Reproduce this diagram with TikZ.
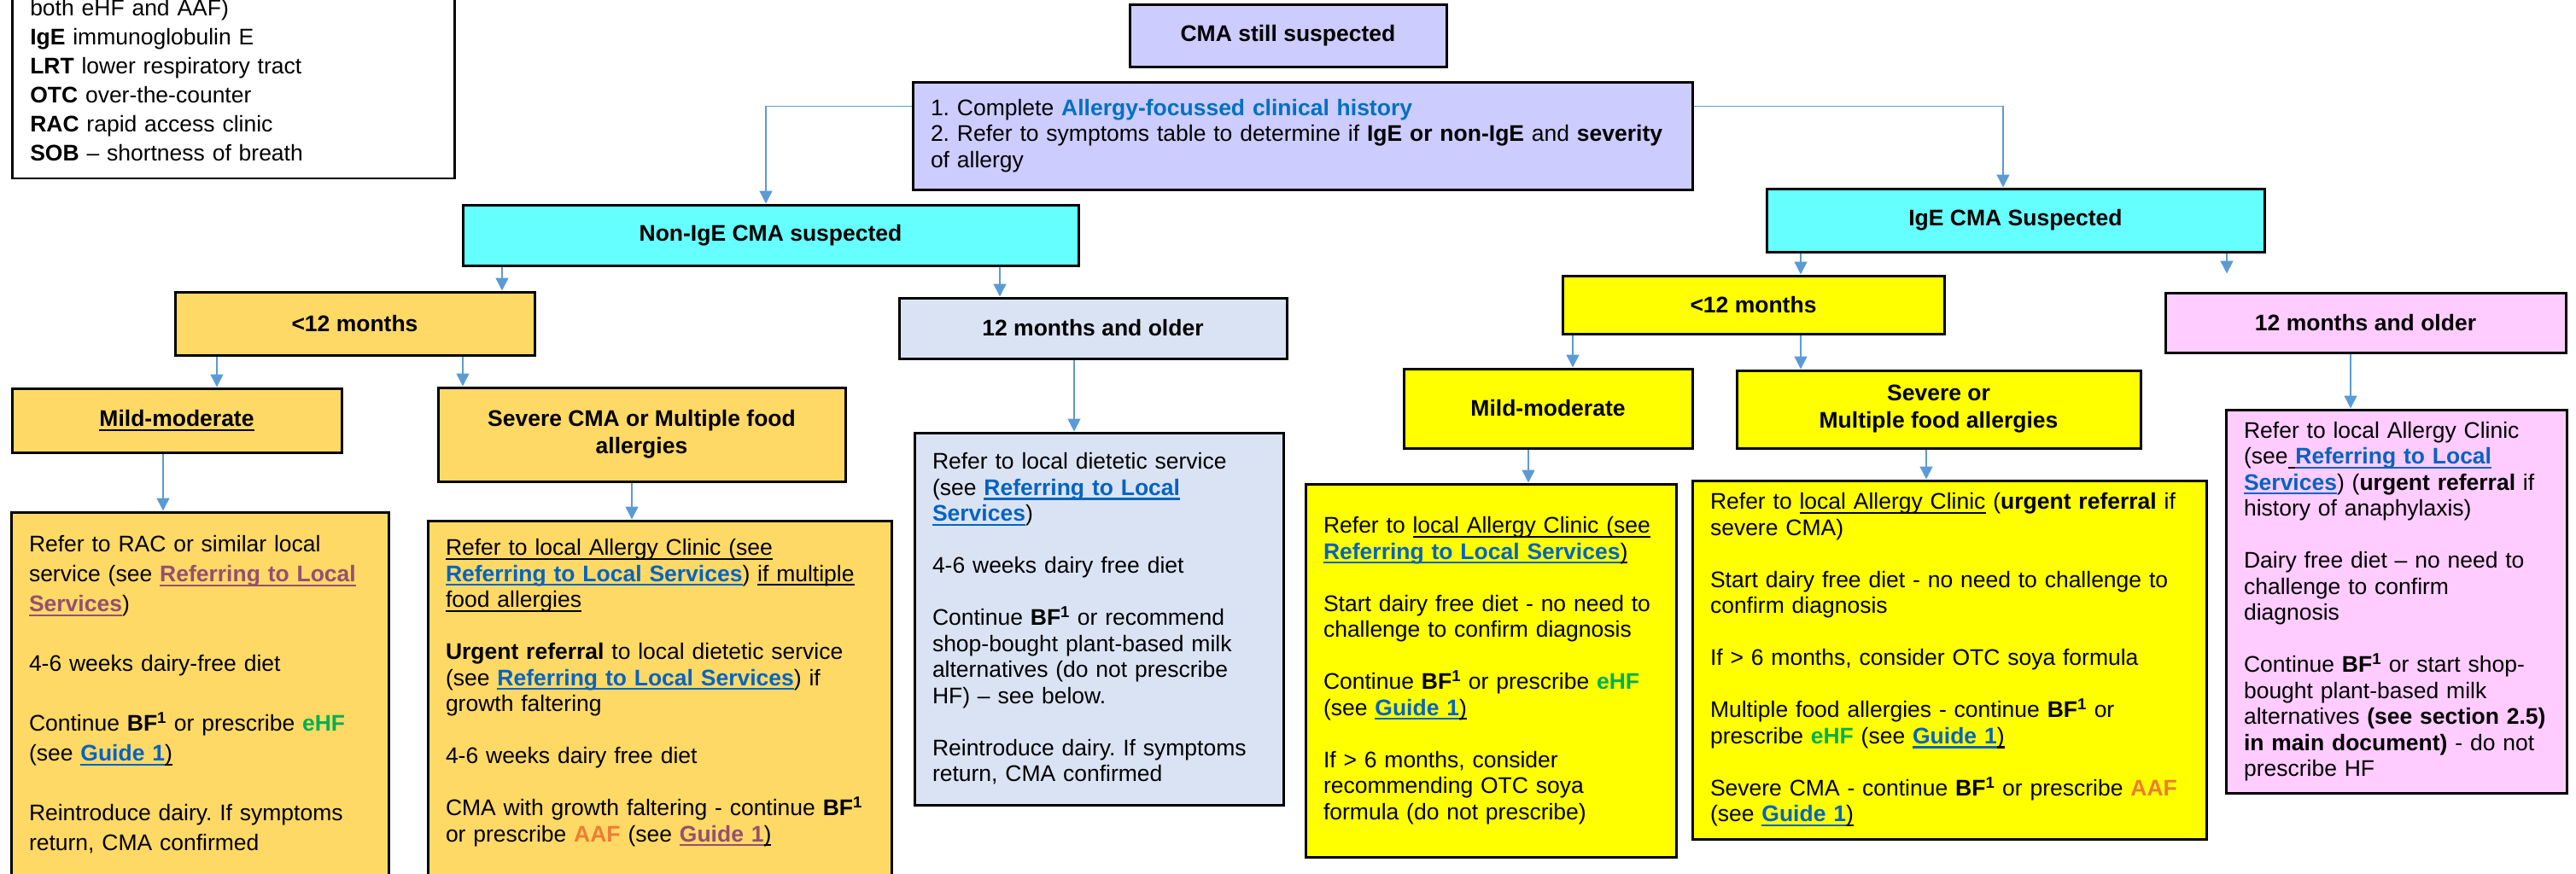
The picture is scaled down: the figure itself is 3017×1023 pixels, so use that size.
\documentclass[tikz,border=0pt]{standalone}
\usepackage{fontspec}
\setmainfont{Liberation Sans}
\usetikzlibrary{arrows.meta, calc}
\definecolor{lavcol}{HTML}{CCCCFF}
\definecolor{cyancol}{HTML}{66FFFF}
\definecolor{goldcol}{HTML}{FFD966}
\definecolor{palecol}{HTML}{DAE3F3}
\definecolor{yelcol}{HTML}{FFFF00}
\definecolor{pinkcol}{HTML}{FFCCFF}
\definecolor{arrowcol}{HTML}{5B9BD5}
\definecolor{linkcol}{HTML}{0563C1}
\definecolor{visitcol}{HTML}{954F72}
\definecolor{ehfcol}{HTML}{00B050}
\definecolor{aafcol}{HTML}{ED7D31}
\definecolor{histcol}{HTML}{0070C0}
\frenchspacing
% underline in the current colour, at a fixed depth
\newcommand{\undl}[1]{\leavevmode\setbox0\hbox{#1}%
  \rlap{\rule[-5.2pt]{\wd0}{2.2pt}}\box0\relax}
\newcommand{\lnk}[1]{{\color{linkcol}\bfseries\undl{#1}}}
\newcommand{\vlnk}[1]{{\color{visitcol}\bfseries\undl{#1}}}
\newcommand{\ehf}{{\color{ehfcol}\bfseries eHF}}
\newcommand{\aaf}{{\color{aafcol}\bfseries AAF}}
\newcommand{\bfone}{\textbf{BF\textsuperscript{1}}}
\newcommand{\emptyrow}{\\[\baselineskip]}
\tikzset{
  box/.style   = {draw=black, line width=3pt,
                  font=\fontsize{26.5}{30.5}\selectfont},
  head/.style  = {box, align=center,
                  font=\fontsize{26.5}{32}\selectfont\bfseries},
  note/.style  = {box, align=left, inner xsep=21pt, inner ysep=0pt},
  legend/.style = {draw=black, line width=2.5pt, align=left,
                   font=\fontsize{26.5}{34}\selectfont,
                   inner xsep=21pt, inner ysep=20pt, text width=476pt},
  flow/.style  = {-{Triangle[length=15pt, width=15pt]}, draw=arrowcol,
                  line width=1.5pt},
}
\begin{document}
\begin{tikzpicture}[x=1pt, y=-1pt]

  \useasboundingbox (0,0) rectangle (3017,1023);
  \clip (0,0) rectangle (3017,1023);

  %% ---------------- legend, cut by the top edge ----------------
  \node[legend, anchor=south west] (legend) at (13,210)
       {both eHF and AAF)\\
        \textbf{IgE} immunoglobulin E\\
        \textbf{LRT} lower respiratory tract\\
        \textbf{OTC} over-the-counter\\
        \textbf{RAC} rapid access clinic\\
        \textbf{SOB} -- shortness of breath};

  %% ---------------- top of the tree ----------------
  \node[head, fill=lavcol, minimum width=371pt, minimum height=73pt]
       (still) at (1508.5,41.5) {CMA still suspected};
  \node[note, fill=lavcol, text width=871pt, minimum height=126pt]
       (instr) at (1525.5,159)
       {1. Complete {\color{histcol}\bfseries Allergy-focussed clinical history}\\
        2. Refer to symptoms table to determine if \textbf{IgE or non-IgE} and \textbf{severity}\\
        of allergy};

  \node[head, fill=cyancol, minimum width=721pt, minimum height=71pt]
       (nonige) at (902.5,275.5) {Non-IgE CMA suspected};
  \node[head, fill=cyancol, minimum width=583pt, minimum height=74pt]
       (ige) at (2360.5,258) {IgE CMA Suspected};

  %% ---------------- age groups ----------------
  \node[head, fill=goldcol, minimum width=421pt, minimum height=74pt]
       (lt12a) at (415.5,379) {<12 months};
  \node[head, fill=palecol, minimum width=454pt, minimum height=71pt]
       (old12a) at (1280,384.5) {12 months and older};
  \node[head, fill=yelcol, minimum width=447pt, minimum height=68pt]
       (lt12b) at (2053.5,357) {<12 months};
  \node[head, fill=pinkcol, minimum width=469pt, minimum height=70pt]
       (old12b) at (2770.5,378) {12 months and older};

  %% ---------------- severity ----------------
  \node[head, fill=goldcol, minimum width=386pt, minimum height=75pt]
       (mildA) at (207,492.5) {\undl{Mild-moderate}};
  \node[head, fill=goldcol, minimum width=477pt, minimum height=110pt]
       (sevA) at (751.5,509) {Severe CMA or Multiple food\\ allergies};
  \node[head, fill=yelcol, minimum width=338pt, minimum height=93pt]
       (mildB) at (1813,478.5) {Mild-moderate};
  \node[head, fill=yelcol, minimum width=473pt, minimum height=91pt]
       (sevB) at (2270.5,479.5) {Severe or\\ Multiple food allergies};

  %% ---------------- what to do ----------------
  \node[note, fill=goldcol, text width=400pt, minimum height=428pt,
        font=\fontsize{26.5}{35}\selectfont]
       (noteA) at (234,814)
       {Refer to RAC or similar local\\
        service (see \vlnk{Referring to Local}\\
        \vlnk{Services})\emptyrow
        4-6 weeks dairy-free diet\emptyrow
        Continue \bfone{} or prescribe \ehf\\
        (see \lnk{Guide 1}\undl{)}\emptyrow
        Reintroduce dairy. If symptoms\\
        return, CMA confirmed};

  \node[note, fill=goldcol, text width=501pt, minimum height=428pt]
       (noteB) at (772.5,824)
       {\undl{Refer to local Allergy Clinic (see}\\
        \lnk{Referring to Local Services}) \undl{if multiple}\\
        \undl{food allergies}\emptyrow
        \textbf{Urgent referral} to local dietetic service\\
        (see \lnk{Referring to Local Services}) if\\
        growth faltering\emptyrow
        4-6 weeks dairy free diet\emptyrow
        CMA with growth faltering - continue \bfone\\
        or prescribe \aaf{} (see \vlnk{Guide 1}\undl{)}\\
        \mbox{}};

  \node[note, fill=palecol, text width=390pt, minimum height=436pt]
       (noteC) at (1287,725)
       {Refer to local dietetic service\\
        (see \lnk{Referring to Local}\\
        \lnk{Services})\emptyrow
        4-6 weeks dairy free diet\emptyrow
        Continue \bfone{} or recommend\\
        shop-bought plant-based milk\\
        alternatives (do not prescribe\\
        HF) -- see below.\emptyrow
        Reintroduce dairy. If symptoms\\
        return, CMA confirmed};

  \node[note, fill=yelcol, text width=392pt, minimum height=437pt]
       (noteD) at (1746,785.5)
       {Refer to \undl{local Allergy Clinic (see}\\
        \lnk{Referring to Local Services}\undl{)}\emptyrow
        Start dairy free diet - no need to\\
        challenge to confirm diagnosis\emptyrow
        Continue \bfone{} or prescribe \ehf\\
        (see \lnk{Guide 1}\undl{)}\emptyrow
        If > 6 months, consider\\
        recommending OTC soya\\
        formula (do not prescribe)};

  \node[note, fill=yelcol, text width=560pt, minimum height=420pt]
       (noteE) at (2283,773)
       {Refer to \undl{local Allergy Clinic} (\textbf{urgent referral} if\\
        severe CMA)\emptyrow
        Start dairy free diet - no need to challenge to\\
        confirm diagnosis\emptyrow
        If > 6 months, consider OTC soya formula\emptyrow
        Multiple food allergies - continue \bfone{} or\\
        prescribe \ehf{} (see \lnk{Guide 1}\undl{)}\emptyrow
        Severe CMA - continue \bfone{} or prescribe \aaf\\
        (see \lnk{Guide 1}\undl{)}};

  \node[note, fill=pinkcol, text width=357pt, minimum height=449pt]
       (noteF) at (2806.5,704.5)
       {Refer to local Allergy Clinic\\
        (see\undl{\ }\lnk{Referring to Local}\\
        \lnk{Services}) (\textbf{urgent referral} if\\
        history of anaphylaxis)\emptyrow
        Dairy free diet -- no need to\\
        challenge to confirm\\
        diagnosis\emptyrow
        Continue \bfone{} or start shop-\\
        bought plant-based milk\\
        alternatives \textbf{(see section 2.5)}\\
        \textbf{in main document)} - do not\\
        prescribe HF};

  %% ---------------- connectors ----------------
  \draw[flow] ([yshift=-30pt]instr.north west) -| ([xshift=-5.5pt]nonige.north);
  \draw[flow] ([yshift=-30pt]instr.north east) -| ([xshift=-14.5pt]ige.north);

  \foreach \src/\dst/\dx in {nonige/lt12a/172.5, nonige/old12a/-109,
      ige/lt12b/55.5, lt12a/mildA/47, lt12a/sevA/-209.5,
      old12a/noteC/-29, lt12b/mildB/29, lt12b/sevB/-161.5,
      old12b/noteF/-53.5, mildA/noteA/-43, sevA/noteB/-32.5,
      mildB/noteD/44, sevB/noteE/-27}
    \draw[flow] ([xshift=\dx pt]\dst.north |- \src.south) -- ([xshift=\dx pt]\dst.north);

  % this one stops short of the box below it
  \draw[flow, shorten >=21pt] ([xshift=-162.5pt]old12b.north |- ige.south)
       -- ([xshift=-162.5pt]old12b.north);

\end{tikzpicture}
\end{document}
